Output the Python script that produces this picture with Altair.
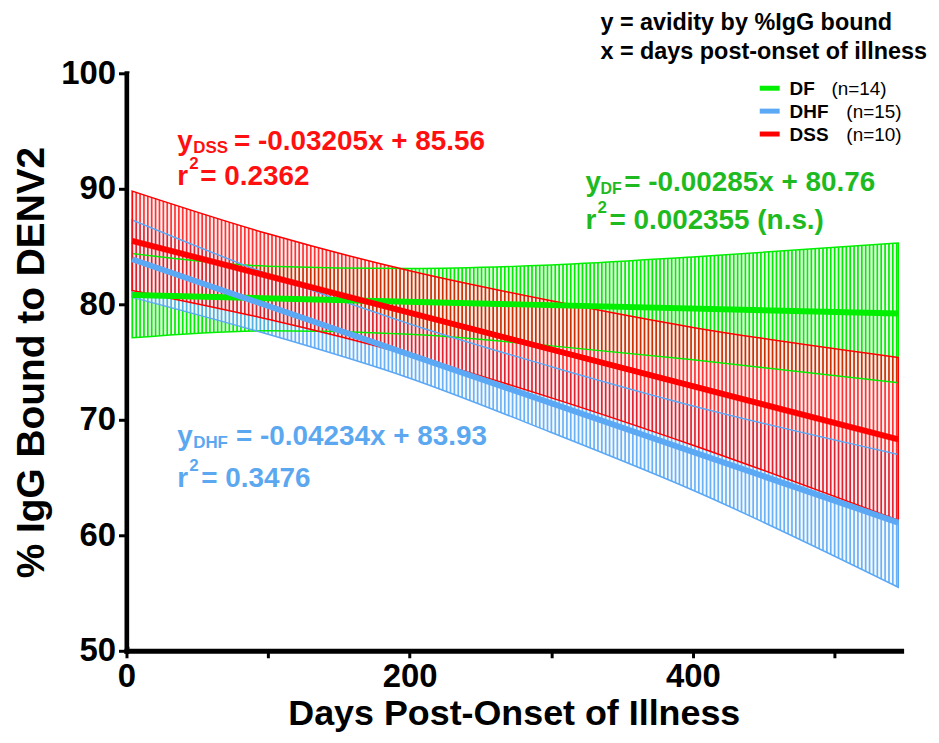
import altair as alt
import pandas as pd

# ---- data ----
series = ["DF", "DHF", "DSS"]
band_x = [4, 100, 200, 300, 400, 545]
df_upper = [84.4, 83.3, 83.1, 83.4, 84.1, 85.3]
df_lower = [77.1, 77.7, 77.4, 76.4, 75.2, 73.2]
dhf_upper = [87.3, 82.6, 78.3, 74.6, 71.2, 67.0]
dhf_lower = [80.6, 77.4, 73.6, 68.9, 63.9, 55.5]
dss_upper = [89.8, 86.1, 82.9, 80.3, 78.0, 75.4]
dss_lower = [81.2, 78.7, 75.6, 71.9, 67.8, 61.3]
line_x = [4, 545]
df_line = [80.8, 79.2]
dhf_line = [83.9, 61.1]
dss_line = [85.5, 68.3]
x_ticks = [0, 100, 200, 300, 400, 500]
y_ticks = [50, 60, 70, 80, 90, 100]

# ---- styling ----
FONT = "Liberation Sans"
COL = {"DF": "#00ee00", "DHF": "#5ba8f5", "DSS": "#ff0000"}
FILL_OP = {"DF": 1.0, "DHF": 0.9, "DSS": 0.8}
TXT = {"DF": "#1fba1f", "DHF": "#5ba8f0", "DSS": "#ff1010"}
W, H = 778, 580
HATCH_STEP = 2.74  # days between hatch gaps (~3.9 px)

xs = alt.Scale(domain=[0, 547], nice=False, zero=False)
ys = alt.Scale(domain=[50, 100], nice=False, zero=False)
x_axis = alt.Axis(values=x_ticks, labelExpr="datum.value % 200 === 0 ? datum.label : ''",
                  title="Days Post-Onset of Illness")
y_axis = alt.Axis(values=y_ticks, title="% IgG Bound to DENV2")


def X(f):
    return alt.X(f, scale=xs, axis=x_axis)


def Y(f):
    return alt.Y(f, scale=ys, axis=y_axis)


bands = {
    "DF": (df_lower, df_upper),
    "DHF": (dhf_lower, dhf_upper),
    "DSS": (dss_lower, dss_upper),
}
lines = {"DF": df_line, "DHF": dhf_line, "DSS": dss_line}

band_df = {s: pd.DataFrame({"x": band_x, "lo": bands[s][0], "up": bands[s][1]}) for s in series}

layers = []
# band fills
for s in series:
    layers.append(
        alt.Chart(band_df[s]).mark_area(
            color=COL[s], opacity=FILL_OP[s], interpolate="monotone"
        ).encode(x=X("x:Q"), y=Y("lo:Q"), y2="up:Q")
    )

# white gaps that turn the fills into vertical hatching
layers.append(
    alt.Chart(alt.sequence(HATCH_STEP, 546, HATCH_STEP, as_="hx")).mark_rule(
        color="white", strokeWidth=2.2, opacity=0.92
    ).encode(x=X("hx:Q"), y=alt.value(0), y2=alt.value(H - 4))
)

# band outlines
for s in series:
    layers.append(
        alt.Chart(band_df[s]).mark_area(
            fillOpacity=0, stroke=COL[s], strokeWidth=1.5, interpolate="monotone"
        ).encode(x=X("x:Q"), y=Y("lo:Q"), y2="up:Q")
    )

# regression lines
for s in series:
    d = pd.DataFrame({"x": line_x, "y": lines[s]})
    layers.append(
        alt.Chart(d).mark_line(color=COL[s], strokeWidth=6, strokeCap="butt").encode(
            x=X("x:Q"), y=Y("y:Q")
        )
    )

one = pd.DataFrame({"a": [0]})


def txt(t, px, py, size, color="black", weight="bold"):
    return alt.Chart(one).mark_text(
        font=FONT, fontSize=size, fontWeight=weight, color=color, align="left",
        baseline="alphabetic"
    ).encode(x=alt.value(px), y=alt.value(py), text=alt.value(t))


# equations (positions relative to plot origin)
F, S = 28, 17
layers += [
    txt("y", 51, 77, F, TXT["DSS"]), txt("DSS", 67, 80, S, TXT["DSS"]),
    txt("= -0.03205x + 85.56", 108, 77, F, TXT["DSS"]),
    txt("r", 51, 112, F, TXT["DSS"]), txt("2", 63, 96, S, TXT["DSS"]),
    txt("= 0.2362", 74, 112, F, TXT["DSS"]),
    txt("y", 461, 118, F, TXT["DF"]), txt("DF", 476, 121, 16, TXT["DF"]),
    txt("= -0.00285x + 80.76", 500, 118, F, TXT["DF"]),
    txt("r", 461, 156, F, TXT["DF"]), txt("2", 473, 140, S, TXT["DF"]),
    txt("= 0.002355 (n.s.)", 485, 156, F, TXT["DF"]),
    txt("y", 51, 373, F, TXT["DHF"]), txt("DHF", 67, 376, S, TXT["DHF"]),
    txt("= -0.04234x + 83.93", 110, 373, F, TXT["DHF"]),
    txt("r", 51, 415, F, TXT["DHF"]), txt("2", 63, 399, S, TXT["DHF"]),
    txt("= 0.3476", 75, 415, F, TXT["DHF"]),
    txt("y = avidity by %IgG bound", 476, -43, 23.5),
    txt("x = days post-onset of illness", 476, -14, 23.5),
]

# legend
leg_y = {"DF": 15, "DHF": 38, "DSS": 61}
leg_n = {"DF": "(n=14)", "DHF": "(n=15)", "DSS": "(n=10)"}
leg_nx = {"DF": 708, "DHF": 723, "DSS": 723}
for s in series:
    yy = leg_y[s]
    layers.append(
        alt.Chart(one).mark_rule(color=COL[s], strokeWidth=5).encode(
            x=alt.value(636), x2=alt.value(656), y=alt.value(yy)
        )
    )
    layers.append(txt(s, 666, yy + 7, 19))
    layers.append(txt(leg_n[s], leg_nx[s], yy + 7, 19, weight="normal"))

chart = alt.layer(*layers).properties(
    width=W, height=H,
    autosize=alt.AutoSizeParams(type="none"),
    padding={"left": 119, "top": 64, "right": 30, "bottom": 83},
).configure_view(stroke=None).configure_axis(
    domainColor="black", domainWidth=5, domainCap="square", tickColor="black",
    tickWidth=3, grid=False, labelFont=FONT, labelFontWeight="bold", labelColor="black",
    labelFontSize=33, titleFont=FONT, titleFontWeight="bold", titleColor="black", zindex=1,
).configure_axisX(
    tickSize=7, labelPadding=3, titleFontSize=36, titlePadding=3, labelFlush=False
).configure_axisY(
    tickSize=8, labelPadding=3, titleFontSize=39, titlePadding=9
)

chart.save("out.html", embed_options={"renderer": "svg", "actions": False})
